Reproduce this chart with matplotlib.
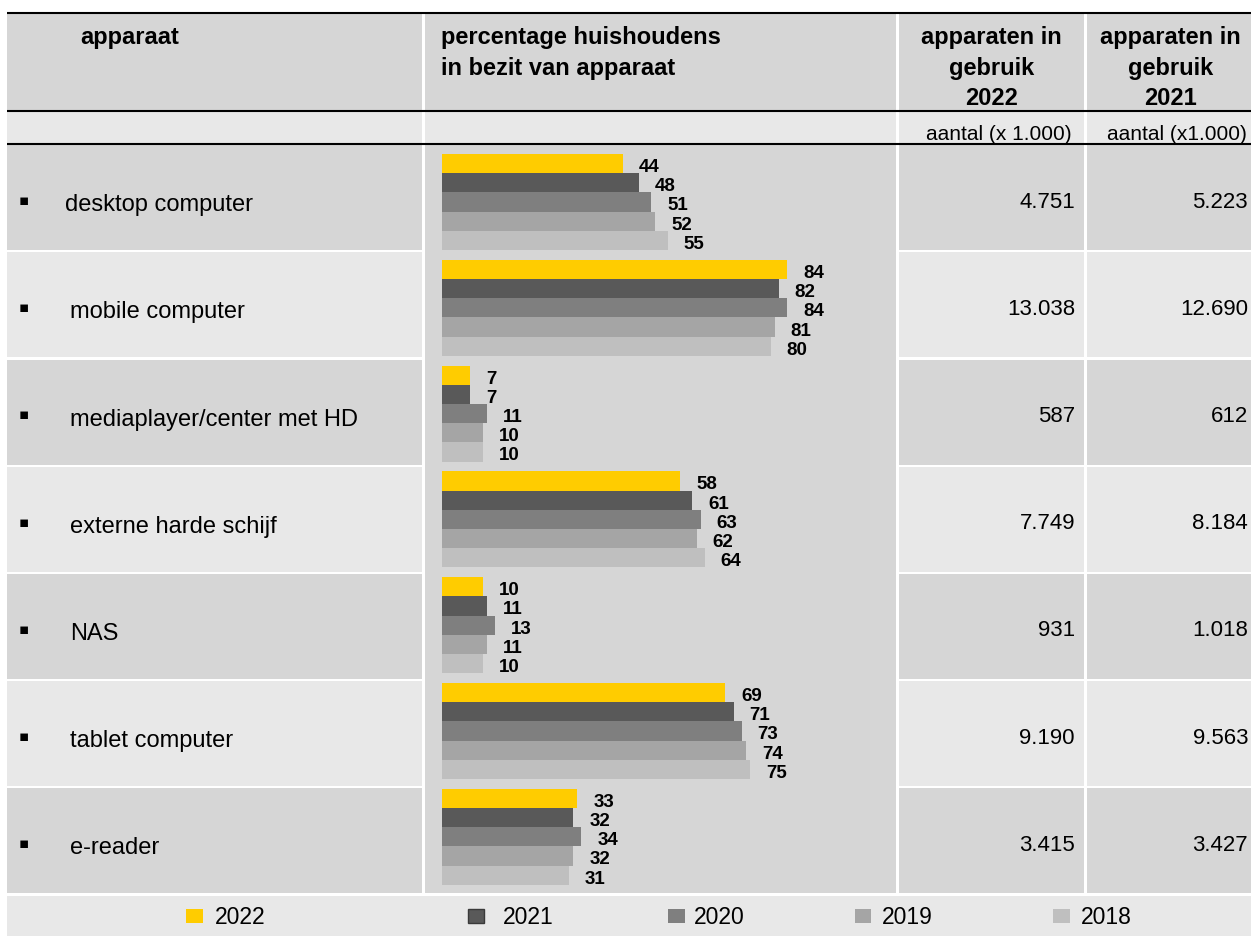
import matplotlib
matplotlib.use("Agg")
import matplotlib.pyplot as plt
from matplotlib.patches import Rectangle

plt.rcParams["font.family"] = ["Liberation Sans", "DejaVu Sans"]

# data
devices = ["desktop computer", "mobile computer", "mediaplayer/center met HD",
           "externe harde schijf", "NAS", "tablet computer", "e-reader"]
years = ["2022", "2021", "2020", "2019", "2018"]
pct_2022 = [44, 84, 7, 58, 10, 69, 33]
pct_2021 = [48, 82, 7, 61, 11, 71, 32]
pct_2020 = [51, 84, 11, 63, 13, 73, 34]
pct_2019 = [52, 81, 10, 62, 11, 74, 32]
pct_2018 = [55, 80, 10, 64, 10, 75, 31]
in_use_2022 = ["4.751", "13.038", "587", "7.749", "931", "9.190", "3.415"]
in_use_2021 = ["5.223", "12.690", "612", "8.184", "1.018", "9.563", "3.427"]
bar_colors = ["#FFCC00", "#595959", "#7F7F7F", "#A5A5A5", "#BFBFBF"]

DARK = "#D6D6D6"
LIGHT = "#E8E8E8"

# layout in pixels
W, H = 1251, 937
X0, C1, C2, C3, X1 = 7, 423.5, 897.5, 1085.5, 1251
Y_TOP, Y_HEAD, Y_SUB = 14, 112, 145
ROW_H = 107.2
Y_END = Y_SUB + ROW_H * len(devices)
LEG_TOP, LEG_BOT = 897, 937
G = 1.1  # half white gap

fig = plt.figure(figsize=(W / 100, H / 100), dpi=100)
fig.patch.set_facecolor("white")
bg = fig.add_axes([0, 0, 1, 1])
bg.set_xlim(0, W)
bg.set_ylim(H, 0)
bg.axis("off")


def cell(x0, y0, x1, y1, color):
    bg.add_patch(Rectangle((x0 + G, y0 + G), x1 - x0 - 2 * G, y1 - y0 - 2 * G,
                           facecolor=color, edgecolor="none", zorder=1))


cols = [(X0 - G, C1), (C1, C2), (C2, C3), (C3, X1 + G)]
for a, b in cols:
    cell(a, Y_TOP, b, Y_HEAD, DARK)
    cell(a, Y_HEAD, b, Y_SUB, LIGHT)
for i in range(len(devices)):
    y0 = Y_SUB + i * ROW_H
    color = DARK if i % 2 == 0 else LIGHT
    for k, (a, b) in enumerate(cols):
        if k == 1:
            continue
        cell(a, y0, b, y0 + ROW_H, color)
cell(C1, Y_SUB, C2, Y_END, DARK)
cell(X0 - G, LEG_TOP - G, X1 + G, LEG_BOT + G, LIGHT)

for y in (Y_TOP, Y_HEAD, Y_SUB):
    bg.plot([X0, X1], [y, y], color="black", lw=1.5, zorder=3,
            solid_capstyle="butt")

# header texts
hfs = 17
bg.text(80, 44, "apparaat", fontsize=hfs, fontweight="bold", va="baseline", zorder=4)
bg.text(441, 44, "percentage huishoudens", fontsize=hfs, fontweight="bold",
        va="baseline", zorder=4)
bg.text(441, 75, "in bezit van apparaat", fontsize=hfs, fontweight="bold",
        va="baseline", zorder=4)
for cx, yr in (((C2 + C3) / 2, "2022"), ((C3 + X1) / 2 + 2, "2021")):
    for yb, s in ((44, "apparaten in"), (75, "gebruik"), (105, yr)):
        bg.text(cx, yb, s, fontsize=hfs, fontweight="bold", ha="center",
                va="baseline", zorder=4)
bg.text(1071.5, 140, "aantal (x 1.000)", fontsize=15, ha="right",
        va="baseline", zorder=4)
bg.text(1246.5, 140, "aantal (x1.000)", fontsize=15, ha="right",
        va="baseline", zorder=4)

# row texts
for i, name in enumerate(devices):
    yc = Y_SUB + (i + 0.5) * ROW_H
    bg.text(23.5, yc + 2, "\u25aa", fontsize=11, ha="center", va="center",
            family="DejaVu Sans", zorder=4)
    bg.text(65 if i == 0 else 70, yc + 12.7, name, fontsize=17,
            va="baseline", zorder=4)
    bg.text(1075, yc + 9, in_use_2022[i], fontsize=16, ha="right",
            va="baseline", zorder=4)
    bg.text(1248, yc + 9, in_use_2021[i], fontsize=16, ha="right",
            va="baseline", zorder=4)

# bar chart in the middle column
ORIGIN, SCALE = 441.7, 4.11       # px of value 0, px per percent
BAR_TOP, GROUP_H = 150, 105.8
BAR_BOT = BAR_TOP + GROUP_H * len(devices)
ax = fig.add_axes([C1 / W, 1 - BAR_BOT / H, (C2 - C1) / W, (BAR_BOT - BAR_TOP) / H])
ax.set_xlim((C1 - ORIGIN) / SCALE, (C2 - ORIGIN) / SCALE)
ax.set_ylim(len(devices), 0)
ax.axis("off")
ax.patch.set_alpha(0)

off = 5 / GROUP_H
bh = 19.2 / GROUP_H
series = [pct_2022, pct_2021, pct_2020, pct_2019, pct_2018]
for j, (vals, color) in enumerate(zip(series, bar_colors)):
    ys = [i + off + (j + 0.5) * bh for i in range(len(devices))]
    ax.barh(ys, vals, height=bh, color=color, edgecolor="none")
    for y, v in zip(ys, vals):
        ax.text(v + 16 / SCALE, y + 7.5 / GROUP_H, str(v), fontsize=13.5,
                fontweight="bold", ha="left", va="baseline")

# legend row
leg_sq_x = [186, 467.7, 668, 854.5, 1053]
leg_tx_x = [215, 503, 694, 882, 1081]
for sx, tx, yr, color in zip(leg_sq_x, leg_tx_x, years, bar_colors):
    ec = "#3A3A3A" if yr == "2021" else "none"
    bg.add_patch(Rectangle((sx, 910), 16.5, 14.3, facecolor=color, edgecolor=ec,
                           lw=1, zorder=4))
    bg.text(tx, 924.3, yr, fontsize=16.5, va="baseline", zorder=4)

fig.savefig("out.png", dpi=100, facecolor="white")
